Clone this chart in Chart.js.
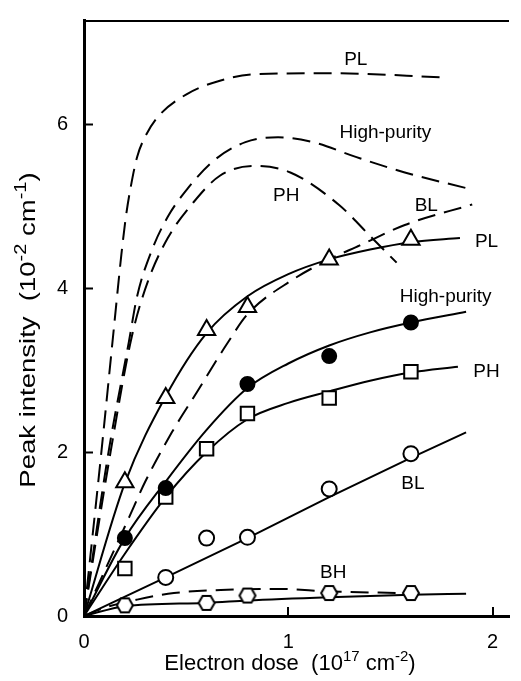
<!DOCTYPE html>
<html>
<head>
<meta charset="utf-8">
<script src="https://cdn.jsdelivr.net/npm/chart.js@4.4.1/dist/chart.umd.min.js"></script>
<style>
  html, body { margin: 0; padding: 0; background: #fff; }
  #c { display: block; }
</style>
</head>
<body>
<canvas id="c" width="521" height="681"></canvas>
<script>
// ---------------- data ----------------
// measured points (x: electron dose 1e17 cm^-2, y: peak intensity 1e-2 cm^-1)
const plX = [0.2, 0.4, 0.6, 0.8, 1.2, 1.6];
const plY = [1.63, 2.66, 3.49, 3.77, 4.35, 4.59];
const hpX = [0.2, 0.4, 0.8, 1.2, 1.6];
const hpY = [0.95, 1.56, 2.83, 3.17, 3.58];
const phX = [0.2, 0.4, 0.6, 0.8, 1.2, 1.6];
const phY = [0.58, 1.45, 2.04, 2.47, 2.66, 2.98];
const blX = [0.4, 0.6, 0.8, 1.2, 1.6];
const blY = [0.47, 0.95, 0.96, 1.55, 1.98];
const bhX = [0.2, 0.6, 0.8, 1.2, 1.6];
const bhY = [0.13, 0.16, 0.25, 0.28, 0.28];

// solid fitted curves
const plFitX = [0, 0.2, 0.4, 0.6, 0.8, 1.0, 1.2, 1.4, 1.6, 1.84];
const plFitY = [0, 1.62, 2.68, 3.45, 3.9, 4.17, 4.35, 4.47, 4.56, 4.61];
const hpFitX = [0, 0.2, 0.4, 0.6, 0.8, 1.0, 1.2, 1.4, 1.6, 1.87];
const hpFitY = [0, 0.95, 1.64, 2.27, 2.78, 3.08, 3.3, 3.46, 3.58, 3.71];
const phFitX = [0, 0.2, 0.4, 0.6, 0.8, 1.0, 1.2, 1.4, 1.6, 1.83];
const phFitY = [0, 0.76, 1.45, 2.0, 2.4, 2.6, 2.74, 2.87, 2.97, 3.04];
const blFitX = [0, 0.4, 0.8, 1.2, 1.6, 1.87];
const blFitY = [0, 0.47, 0.95, 1.45, 1.93, 2.24];
const bhFitX = [0, 0.2, 0.6, 0.8, 1.2, 1.6, 1.87];
const bhFitY = [0, 0.12, 0.16, 0.19, 0.23, 0.26, 0.27];

// dashed curves
const plDashX = [0, 0.085, 0.147, 0.183, 0.205, 0.23, 0.26, 0.3, 0.362, 0.506, 0.665, 0.84, 1.22, 1.76];
const plDashY = [0, 2.0, 3.53, 4.41, 4.87, 5.25, 5.6, 5.85, 6.09, 6.37, 6.53, 6.61, 6.62, 6.57];
const hpDashX = [0, 0.12, 0.22, 0.26, 0.33, 0.41, 0.506, 0.633, 0.79, 0.95, 1.12, 1.33, 1.57, 1.87];
const hpDashY = [0, 2.0, 3.35, 3.9, 4.45, 4.87, 5.21, 5.55, 5.78, 5.84, 5.78, 5.6, 5.41, 5.22];
const phDashX = [0, 0.13, 0.234, 0.314, 0.41, 0.537, 0.665, 0.83, 1.01, 1.25, 1.41, 1.53];
const phDashY = [0, 2.0, 3.41, 4.09, 4.61, 5.05, 5.37, 5.49, 5.41, 5.01, 4.61, 4.31];
const blDashX = [0, 0.22, 0.3, 0.43, 0.55, 0.7, 0.8, 1.02, 1.2, 1.35, 1.57, 1.9];
const blDashY = [0, 1.2, 1.64, 2.24, 2.72, 3.32, 3.68, 4.1, 4.35, 4.52, 4.77, 5.02];
const bhDashX = [0, 0.1, 0.26, 0.44, 0.7, 0.95, 1.2, 1.55];
const bhDashY = [0, 0.1, 0.2, 0.28, 0.32, 0.33, 0.3, 0.28];

// axis ticks
const xTicks = [0, 1, 2];
const yTicks = [0, 2, 4, 6];

// curve labels
const labelTexts = ['PL', 'High-purity', 'PH', 'BL', 'PL', 'High-purity', 'PH', 'BL', 'BH'];
const labelX = [1.33, 1.475, 0.99, 1.675, 1.97, 1.77, 1.97, 1.61, 1.22];
const labelY = [6.78, 5.9, 5.13, 5.01, 4.56, 3.89, 2.98, 1.61, 0.53];

// axis titles (text piece, is superscript)
const xTitleParts = [['Electron dose  (10', false], ['17', true], [' cm', false], ['-2', true], [')', false]];
const yTitleParts = [['Peak intensity  (10', false], ['-2', true], [' cm', false], ['-1', true], [')', false]];

// ---------------- helpers ----------------
const FONT = '"Liberation Sans", Arial, Helvetica, sans-serif';
const pts = (xs, ys) => xs.map((x, i) => ({ x: x, y: ys[i] }));

function hexagonStyle(r) {
  const size = Math.ceil(r * 2 + 4);
  const cv = document.createElement('canvas');
  cv.width = size; cv.height = size;
  const g = cv.getContext('2d');
  const c = size / 2;
  g.beginPath();
  for (let k = 0; k < 6; k++) {
    const a = Math.PI / 3 * k;
    const px = c + r * Math.cos(a), py = c + r * Math.sin(a);
    if (k === 0) g.moveTo(px, py); else g.lineTo(px, py);
  }
  g.closePath();
  g.fillStyle = '#fff'; g.fill();
  g.lineWidth = 2; g.strokeStyle = '#000'; g.stroke();
  return cv;
}

const solid = (data) => ({
  data: data, showLine: true, pointRadius: 0, borderColor: '#000', borderWidth: 2,
  cubicInterpolationMode: 'monotone', fill: false, order: 2
});
const dashed = (data) => ({
  data: data, showLine: true, pointRadius: 0, borderColor: '#000', borderWidth: 2,
  borderDash: [18, 9], cubicInterpolationMode: 'monotone', fill: false, order: 2
});
const marks = (data, style, radius, filled) => ({
  data: data, showLine: false, pointStyle: style, pointRadius: radius,
  pointBorderColor: '#000', pointBackgroundColor: filled ? '#000' : '#fff',
  pointBorderWidth: 2, order: 1
});

// ---------------- plugins ----------------
const framePlugin = {
  id: 'frame',
  afterDatasetsDraw(chart) {
    const { ctx, chartArea: a, scales } = chart;
    ctx.save();
    ctx.strokeStyle = '#000';
    // top border
    ctx.lineWidth = 2;
    ctx.beginPath(); ctx.moveTo(a.left, a.top + 1); ctx.lineTo(a.right, a.top + 1); ctx.stroke();
    // inward tick marks
    yTicks.forEach(v => {
      if (v === 0) return;
      const y = Math.round(scales.y.getPixelForValue(v)) + 0.5;
      ctx.beginPath(); ctx.moveTo(a.left, y); ctx.lineTo(a.left + 9, y); ctx.stroke();
    });
    xTicks.forEach(v => {
      if (v === 0) return;
      const x = Math.round(scales.x.getPixelForValue(v));
      ctx.beginPath(); ctx.moveTo(x, a.bottom); ctx.lineTo(x, a.bottom - 9); ctx.stroke();
    });
    // curve labels
    ctx.fillStyle = '#000';
    ctx.font = '19px ' + FONT;
    ctx.textAlign = 'center';
    ctx.textBaseline = 'middle';
    labelTexts.forEach((t, i) => {
      ctx.fillText(t, scales.x.getPixelForValue(labelX[i]), scales.y.getPixelForValue(labelY[i]));
    });
    ctx.restore();
  },
  afterDraw(chart) {
    const { ctx } = chart;
    function drawParts(parts, cx, cy, rotate, base, sup, stretch) {
      ctx.save();
      ctx.translate(cx, cy);
      if (rotate) ctx.rotate(-Math.PI / 2);
      ctx.scale(stretch, 1);
      ctx.fillStyle = '#000';
      ctx.textBaseline = 'alphabetic';
      ctx.textAlign = 'left';
      let w = 0;
      parts.forEach(([t, s]) => { ctx.font = (s ? sup : base) + 'px ' + FONT; w += ctx.measureText(t).width; });
      let x = -w / 2;
      parts.forEach(([t, s]) => {
        ctx.font = (s ? sup : base) + 'px ' + FONT;
        ctx.fillText(t, x, s ? -1 : 8);
        x += ctx.measureText(t).width;
      });
      ctx.restore();
    }
    drawParts(xTitleParts, 290, 662, false, 22, 15, 1);
    drawParts(yTitleParts, 27, 330, true, 22, 16, 1.25);
  }
};

// ---------------- chart ----------------
new Chart(document.getElementById('c'), {
  type: 'scatter',
  data: {
    datasets: [
      dashed(pts(plDashX, plDashY)),
      dashed(pts(hpDashX, hpDashY)),
      dashed(pts(phDashX, phDashY)),
      dashed(pts(blDashX, blDashY)),
      dashed(pts(bhDashX, bhDashY)),
      solid(pts(plFitX, plFitY)),
      solid(pts(hpFitX, hpFitY)),
      solid(pts(phFitX, phFitY)),
      solid(pts(blFitX, blFitY)),
      solid(pts(bhFitX, bhFitY)),
      marks(pts(plX, plY), 'triangle', 10, false),
      marks(pts(hpX, hpY), 'circle', 7, true),
      marks(pts(phX, phY), 'rect', 9.5, false),
      marks(pts(blX, blY), 'circle', 7.5, false),
      marks(pts(bhX, bhY), hexagonStyle(8), 8, false)
    ]
  },
  options: {
    responsive: false,
    animation: false,
    devicePixelRatio: 1,
    layout: { padding: { top: 12, right: 0, left: 0, bottom: 0 } },
    plugins: { legend: { display: false }, tooltip: { enabled: false } },
    scales: {
      x: {
        type: 'linear', min: 0, max: 2.08,
        afterBuildTicks: s => { s.ticks = xTicks.map(v => ({ value: v })); },
        afterFit: s => { s.height = 65; },
        grid: { display: false },
        border: { display: true, color: '#000', width: 3 },
        ticks: { color: '#000', font: { family: FONT, size: 20 }, padding: 6, maxRotation: 0 }
      },
      y: {
        type: 'linear', min: 0, max: 7.27,
        afterBuildTicks: s => { s.ticks = yTicks.map(v => ({ value: v })); },
        afterFit: s => { s.width = 84; },
        grid: { display: false },
        border: { display: true, color: '#000', width: 3 },
        ticks: { color: '#000', font: { family: FONT, size: 20 }, padding: 8 }
      }
    }
  },
  plugins: [framePlugin]
});
</script>
</body>
</html>
